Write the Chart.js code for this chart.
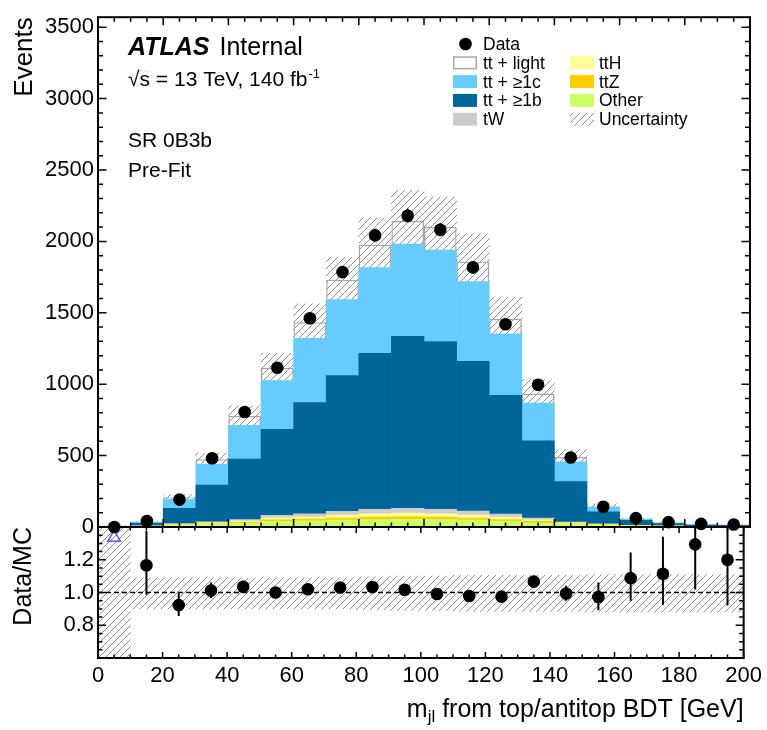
<!DOCTYPE html>
<html lang="en">
<head>
<meta charset="UTF-8">
<title>SR 0B3b Pre-Fit</title>
<script src="https://cdn.jsdelivr.net/npm/chart.js"></script>
<style>
    body { margin: 0; background: #fff; }
    .plot { position: relative; width: 767px; height: 730px; }
    .plot canvas { position: absolute; left: 0; top: 0; }
    #main { z-index: 2; }
    #ratio { z-index: 1; }
</style>
</head>
<body>
<div class="plot">
    <canvas id="ratio" width="767" height="730"></canvas>
    <canvas id="main" width="767" height="730"></canvas>
</div>

<script>
// 10 GeV bins of m_jl
const binCenters = [5, 15, 25, 35, 45, 55, 65, 75, 85, 95, 105, 115, 125, 135, 145, 155, 165, 175, 185, 195];

// observed events and their (asymmetric) errors
const dataEvents  = [0, 42, 192, 481, 805, 1115, 1462, 1785, 2042, 2180, 2082, 1818, 1420, 996, 487, 142, 62, 34, 22, 18];
const dataErrUp   = [1.8, 7.5, 14.9, 23, 29, 34, 39, 43, 46, 48, 47, 44, 39, 33, 23, 13, 8.9, 6.9, 5.8, 5.4];
const dataErrDown = [0, 6.5, 13.9, 22, 28, 33, 38, 42, 45, 47, 46, 43, 38, 32, 22, 11.9, 7.9, 5.8, 4.7, 4.2];

// MC backgrounds, bottom of the stack first
const other   = [1, 4, 12, 18, 25, 40, 43, 48, 52, 54, 52, 48, 40, 30, 18, 12, 7, 5, 3, 2.5];
const ttZ     = [0.3, 1, 3, 5, 7, 11, 13, 15, 17, 18, 17, 15, 12, 9, 5, 3, 1.5, 1, 0.6, 0.5];
const ttH     = [0.3, 2, 4, 7, 9, 14, 16, 20, 23, 25, 24, 21, 17, 11, 6, 4, 2, 1, 0.7, 0.5];
const tW      = [0.4, 1, 5, 7, 11, 17, 21, 27, 31, 33, 31, 28, 21, 12, 6, 3, 1.5, 1, 0.7, 0.5];
const ttB     = [1, 18, 106, 256, 423, 602, 778, 951, 1094, 1206, 1175, 1049, 832, 541, 283, 85, 35, 16, 8, 7];
const ttC     = [0.5, 8, 63, 147, 237, 342, 451, 531, 599, 645, 640, 557, 430, 265, 138, 31, 8, 5, 3, 3];
const ttLight = [0.5, 2, 15, 35, 66, 89, 112, 140, 160, 163, 163, 140, 105, 66, 34, 8, 2, 1.5, 1, 1];

// relative uncertainty on the total prediction
const uncUp   = [1, 0.09, 0.09, 0.09, 0.09, 0.09, 0.09, 0.09, 0.095, 0.1, 0.1, 0.105, 0.105, 0.105, 0.105, 0.11, 0.11, 0.11, 0.11, 0.11];
const uncDown = [1, 0.10, 0.10, 0.10, 0.10, 0.10, 0.10, 0.10, 0.105, 0.11, 0.11, 0.115, 0.115, 0.115, 0.115, 0.12, 0.12, 0.12, 0.12, 0.12];

// axis ticks
const xTicks = [0, 20, 40, 60, 80, 100, 120, 140, 160, 180, 200];
const yTicksMain = [0, 500, 1000, 1500, 2000, 2500, 3000, 3500];
const yTicksRatio = [0.8, 1.0, 1.2];

const FONT = "'Liberation Sans', Arial, Helvetica, sans-serif";
Chart.defaults.font.family = FONT;
Chart.defaults.color = '#000';
Chart.defaults.animation = false;

const COL = {
    light: '#a6a6a6',
    c: '#66ccff',
    b: '#006699',
    tW: '#cccccc',
    ttH: '#ffff99',
    ttZ: '#ffcc00',
    other: '#ccff66',
    ratioArrow: '#5a5aff'
};

const mcTotal = binCenters.map((_, i) =>
    other[i] + ttZ[i] + ttH[i] + tW[i] + ttB[i] + ttC[i] + ttLight[i]);

function hatchFor(ctx) {
    const tile = document.createElement('canvas');
    tile.width = 7; tile.height = 7;
    const g = tile.getContext('2d');
    g.strokeStyle = '#8f8f8f';
    g.lineWidth = 1;
    g.beginPath();
    g.moveTo(0, 7); g.lineTo(7, 0);
    g.moveTo(-1, 1); g.lineTo(1, -1);
    g.moveTo(6, 8); g.lineTo(8, 6);
    g.stroke();
    return ctx.createPattern(tile, 'repeat');
}

const mainCtx = document.getElementById('main').getContext('2d');
const ratioCtx = document.getElementById('ratio').getContext('2d');
const hatchMain = hatchFor(mainCtx);
const hatchRatio = hatchFor(ratioCtx);

// frame around the plot area with inward ticks on all four sides
const frameTicks = {
    id: 'frameTicks',
    afterDatasetsDraw(chart, args, o) {
        const { ctx, chartArea: a } = chart;
        const xs = chart.scales.x, ys = chart.scales.y;
        const marks = (min, max, minor, major) => {
            const out = [];
            const start = Math.ceil(min / minor - 1e-6);
            const end = Math.floor(max / minor + 1e-6);
            for (let k = start; k <= end; k++) {
                const v = k * minor;
                out.push({ v, major: Math.abs(v / major - Math.round(v / major)) < 1e-6 });
            }
            return out;
        };
        ctx.save();
        ctx.strokeStyle = '#000';
        ctx.lineWidth = 1.5;
        ctx.beginPath();
        marks(xs.min, xs.max, o.xMinor, o.xMajor).forEach(t => {
            const px = xs.getPixelForValue(t.v);
            const len = t.major ? o.xMajLen : o.xMinLen;
            ctx.moveTo(px, a.bottom); ctx.lineTo(px, a.bottom - len);
            ctx.moveTo(px, a.top); ctx.lineTo(px, a.top + len);
        });
        marks(ys.min, ys.max, o.yMinor, o.yMajor).forEach(t => {
            const py = ys.getPixelForValue(t.v);
            const len = t.major ? o.yMajLen : o.yMinLen;
            ctx.moveTo(a.left, py); ctx.lineTo(a.left + len, py);
            ctx.moveTo(a.right, py); ctx.lineTo(a.right - len, py);
        });
        ctx.stroke();
        ctx.lineWidth = 2;
        ctx.strokeRect(a.left, a.top, a.right - a.left, a.bottom - a.top);
        ctx.restore();
    }
};

// vertical error bars for datasets carrying errLow / errHigh
const errorBars = {
    id: 'errorBars',
    afterDatasetsDraw(chart) {
        const { ctx, chartArea: a } = chart;
        ctx.save();
        ctx.beginPath();
        ctx.rect(a.left, a.top, a.right - a.left, a.bottom - a.top);
        ctx.clip();
        ctx.strokeStyle = '#000';
        ctx.lineWidth = 2;
        chart.data.datasets.forEach((ds, di) => {
            if (!ds.errLow) return;
            const ys = chart.scales[chart.getDatasetMeta(di).yAxisID];
            ds.data.forEach((pt, i) => {
                if (pt.y === null || ds.errLow[i] === null) return;
                const px = chart.scales.x.getPixelForValue(pt.x);
                ctx.beginPath();
                ctx.moveTo(px, ys.getPixelForValue(ds.errLow[i]));
                ctx.lineTo(px, ys.getPixelForValue(ds.errHigh[i]));
                ctx.stroke();
            });
        });
        ctx.restore();
    }
};

const legendEntries = [
    { label: 'Data', kind: 'marker', col: 0, row: 0 },
    { label: 'tt + light', kind: 'outline', col: 0, row: 1 },
    { label: 'tt + \u22651c', color: COL.c, col: 0, row: 2 },
    { label: 'tt + \u22651b', color: COL.b, col: 0, row: 3 },
    { label: 'tW', color: COL.tW, col: 0, row: 4 },
    { label: 'ttH', color: COL.ttH, col: 1, row: 1 },
    { label: 'ttZ', color: COL.ttZ, col: 1, row: 2 },
    { label: 'Other', color: COL.other, col: 1, row: 3 },
    { label: 'Uncertainty', kind: 'hatch', col: 1, row: 4 }
];

// ATLAS label, region text and the legend
const atlasText = {
    id: 'atlasText',
    afterDraw(chart) {
        const ctx = chart.ctx;
        ctx.save();
        ctx.fillStyle = '#000';
        ctx.textBaseline = 'alphabetic';
        ctx.textAlign = 'left';

        ctx.font = `italic bold 25px ${FONT}`;
        ctx.fillText('ATLAS', 128, 55);
        const wA = ctx.measureText('ATLAS').width;
        ctx.font = `25px ${FONT}`;
        ctx.fillText('Internal', 128 + wA + 10, 55);

        ctx.font = `21px ${FONT}`;
        let x = 128;
        ctx.fillText('\u221A', x, 86);
        x += ctx.measureText('\u221A').width;
        const wS = ctx.measureText('s').width;
        ctx.fillText('s', x, 86);
        ctx.lineWidth = 1.2;
        ctx.beginPath();
        ctx.moveTo(x - 1, 71); ctx.lineTo(x + wS + 1, 71);
        ctx.stroke();
        x += wS;
        const lumi = ' = 13 TeV, 140 fb';
        ctx.fillText(lumi, x, 86);
        x += ctx.measureText(lumi).width;
        ctx.font = `13px ${FONT}`;
        ctx.fillText('-1', x + 1, 78);

        ctx.font = `21px ${FONT}`;
        ctx.fillText('SR 0B3b', 128, 147);
        ctx.fillText('Pre-Fit', 128, 177);

        const boxX = [453, 570], textX = [483, 599];
        ctx.font = `17.5px ${FONT}`;
        legendEntries.forEach(e => {
            const cy = 44 + 18.8 * e.row;
            const bx = boxX[e.col];
            if (e.kind === 'marker') {
                ctx.beginPath();
                ctx.arc(bx + 12.5, cy, 6.3, 0, Math.PI * 2);
                ctx.fillStyle = '#000';
                ctx.fill();
            } else if (e.kind === 'outline') {
                ctx.fillStyle = '#fff';
                ctx.fillRect(bx, cy - 6.5, 24, 13);
                ctx.strokeStyle = COL.light;
                ctx.lineWidth = 1.5;
                ctx.strokeRect(bx + 0.75, cy - 5.75, 22.5, 11.5);
            } else if (e.kind === 'hatch') {
                ctx.fillStyle = hatchMain;
                ctx.fillRect(bx, cy - 6.5, 24, 13);
            } else {
                ctx.fillStyle = e.color;
                ctx.fillRect(bx, cy - 6.5, 24, 13);
            }
            ctx.fillStyle = '#000';
            ctx.fillText(e.label, textX[e.col], cy + 6);
        });
        ctx.restore();
    }
};

// x-axis title with the jl subscript
const xTitle = {
    id: 'xTitle',
    afterDraw(chart) {
        const ctx = chart.ctx;
        const right = chart.chartArea.right;
        const rest = ' from top/antitop BDT [GeV]';
        ctx.save();
        ctx.fillStyle = '#000';
        ctx.textBaseline = 'alphabetic';
        ctx.font = `25px ${FONT}`;
        const wm = ctx.measureText('m').width;
        const wr = ctx.measureText(rest).width;
        ctx.font = `17px ${FONT}`;
        const wsub = ctx.measureText('jl').width;
        let x = right - (wm + wsub + wr);
        ctx.font = `25px ${FONT}`;
        ctx.fillText('m', x, 717);
        ctx.font = `17px ${FONT}`;
        ctx.fillText('jl', x + wm, 722);
        ctx.font = `25px ${FONT}`;
        ctx.fillText(rest, x + wm + wsub, 717);
        ctx.restore();
    }
};

const barDefaults = { type: 'bar', stack: 'mc', barPercentage: 1, categoryPercentage: 1, borderWidth: 0 };
const asPoints = arr => arr.map((v, i) => ({ x: binCenters[i], y: v }));

new Chart(mainCtx, {
    type: 'bar',
    data: {
        datasets: [
            {
                type: 'scatter', label: 'Data',
                data: asPoints(dataEvents),
                pointRadius: 6.3, pointBackgroundColor: '#000', pointBorderWidth: 0,
                showLine: false, clip: false,
                errLow: dataEvents.map((d, i) => d - dataErrDown[i]),
                errHigh: dataEvents.map((d, i) => d + dataErrUp[i])
            },
            { ...barDefaults, label: 'Other', data: asPoints(other), backgroundColor: COL.other },
            { ...barDefaults, label: 'ttZ', data: asPoints(ttZ), backgroundColor: COL.ttZ },
            { ...barDefaults, label: 'ttH', data: asPoints(ttH), backgroundColor: COL.ttH },
            { ...barDefaults, label: 'tW', data: asPoints(tW), backgroundColor: COL.tW },
            { ...barDefaults, label: 'tt + \u22651b', data: asPoints(ttB), backgroundColor: COL.b },
            { ...barDefaults, label: 'tt + \u22651c', data: asPoints(ttC), backgroundColor: COL.c },
            {
                ...barDefaults, label: 'tt + light', data: asPoints(ttLight),
                backgroundColor: 'rgba(0,0,0,0)', borderColor: COL.light, borderWidth: 1.3,
                borderSkipped: 'bottom', inflateAmount: 0
            },
            {
                type: 'bar', label: 'Uncertainty', grouped: false,
                barPercentage: 1, categoryPercentage: 1, borderWidth: 0,
                data: binCenters.map((x, i) => ({ x, y: [mcTotal[i] * (1 - uncDown[i]), mcTotal[i] * (1 + uncUp[i])] })),
                backgroundColor: hatchMain
            }
        ]
    },
    options: {
        responsive: false,
        events: [],
        layout: { padding: { top: 15, right: 17, bottom: 203, left: 0 } },
        plugins: {
            legend: { display: false },
            tooltip: { enabled: false },
            frameTicks: { xMajor: 20, xMinor: 5, xMajLen: 8, xMinLen: 4.5, yMajor: 500, yMinor: 100, yMajLen: 8.5, yMinLen: 5 }
        },
        scales: {
            x: {
                type: 'linear', min: 0, max: 200, offset: false, display: false,
                grid: { offset: false },
                afterBuildTicks: s => { s.ticks = xTicks.map(v => ({ value: v })); }
            },
            y: {
                min: 0, max: 3570,
                grid: { display: false, drawTicks: false, tickLength: 0 },
                border: { display: false },
                afterBuildTicks: s => { s.ticks = yTicksMain.map(v => ({ value: v })); },
                afterFit: s => { s.width = 98; },
                ticks: { font: { size: 22 }, padding: 4, callback: v => String(v) },
                title: { display: true, text: 'Events', align: 'end', font: { size: 26 }, padding: { top: 9, bottom: 0 } }
            }
        }
    },
    plugins: [frameTicks, errorBars, atlasText]
});

const ratio = dataEvents.map((d, i) => d > 0 ? d / mcTotal[i] : null);
const offScale = binCenters.filter((x, i) => dataEvents[i] === 0).map(x => ({ x, y: 1.335 }));

new Chart(ratioCtx, {
    type: 'bar',
    data: {
        datasets: [
            {
                type: 'scatter', label: 'Data/MC',
                data: ratio.map((r, i) => ({ x: binCenters[i], y: r })),
                pointRadius: 6.3, pointBackgroundColor: '#000', pointBorderWidth: 0,
                showLine: false,
                errLow: ratio.map((r, i) => r === null ? null : (dataEvents[i] - dataErrDown[i]) / mcTotal[i]),
                errHigh: ratio.map((r, i) => r === null ? null : (dataEvents[i] + dataErrUp[i]) / mcTotal[i])
            },
            {
                type: 'scatter', label: 'off scale', data: offScale,
                pointStyle: 'triangle', pointRadius: 7.3,
                pointBackgroundColor: 'rgba(0,0,0,0)', pointBorderColor: COL.ratioArrow, pointBorderWidth: 1.5,
                showLine: false, clip: false
            },
            {
                type: 'line', label: 'unity',
                data: [{ x: 0, y: 1 }, { x: 200, y: 1 }],
                borderColor: '#000', borderWidth: 1.5, borderDash: [5, 3], pointRadius: 0
            },
            {
                type: 'bar', label: 'Uncertainty', grouped: false,
                barPercentage: 1, categoryPercentage: 1, borderWidth: 0,
                data: binCenters.map((x, i) => ({ x, y: [1 - uncDown[i], 1 + uncUp[i]] })),
                backgroundColor: hatchRatio
            }
        ]
    },
    options: {
        responsive: false,
        events: [],
        layout: { padding: { top: 527, right: 17, bottom: 0, left: 0 } },
        plugins: {
            legend: { display: false },
            tooltip: { enabled: false },
            frameTicks: { xMajor: 20, xMinor: 5, xMajLen: 6, xMinLen: 3.5, yMajor: 0.2, yMinor: 0.05, yMajLen: 8, yMinLen: 4.5 }
        },
        scales: {
            x: {
                type: 'linear', min: 0, max: 200, offset: false,
                grid: { display: false, drawTicks: false, tickLength: 0, offset: false },
                border: { display: false },
                afterBuildTicks: s => { s.ticks = xTicks.map(v => ({ value: v })); },
                afterFit: s => { s.height = 72; },
                ticks: { font: { size: 22 }, padding: 5, maxRotation: 0, autoSkip: false, callback: v => String(v) }
            },
            y: {
                min: 0.6, max: 1.4,
                grid: { display: false, drawTicks: false, tickLength: 0 },
                border: { display: false },
                afterBuildTicks: s => { s.ticks = yTicksRatio.map(v => ({ value: v })); },
                afterFit: s => { s.width = 98; },
                ticks: { font: { size: 22 }, padding: 4, callback: v => Number(v).toFixed(1) },
                title: { display: true, text: 'Data/MC', align: 'end', font: { size: 25 }, padding: { top: 9, bottom: 0 } }
            }
        }
    },
    plugins: [frameTicks, errorBars, xTitle]
});
</script>
</body>
</html>
